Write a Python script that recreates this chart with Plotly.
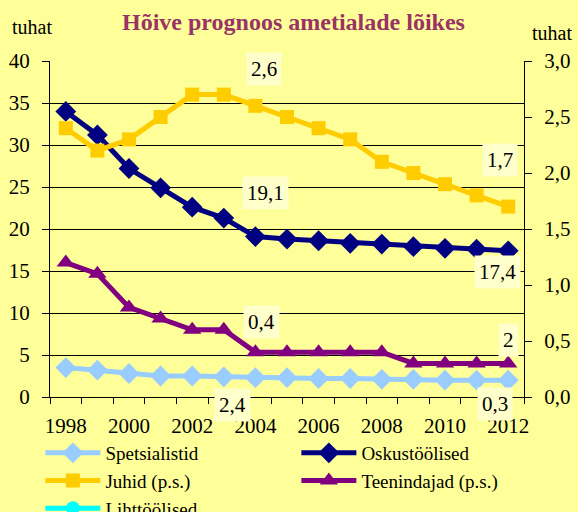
import plotly.graph_objects as go

years = list(range(1998, 2013))
spetsialistid = [3.5, 3.2, 2.8, 2.5, 2.5, 2.4, 2.3, 2.3, 2.2, 2.2, 2.1, 2.1, 2.0, 2.0, 2.0]
oskustoolised = [34.0, 31.2, 27.2, 24.9, 22.6, 21.3, 19.1, 18.8, 18.6, 18.3, 18.2, 17.9, 17.7, 17.6, 17.4]
juhid = [2.4, 2.2, 2.3, 2.5, 2.7, 2.7, 2.6, 2.5, 2.4, 2.3, 2.1, 2.0, 1.9, 1.8, 1.7]
teenindajad = [1.2, 1.1, 0.8, 0.7, 0.6, 0.6, 0.4, 0.4, 0.4, 0.4, 0.4, 0.3, 0.3, 0.3, 0.3]
lihttoolised = [None] * 15
xticks = [1998, 2000, 2002, 2004, 2006, 2008, 2010, 2012]

FONT = "Liberation Serif"
BG = "#FFFF99"

fig = go.Figure()
fig.add_trace(go.Scatter(x=years, y=spetsialistid, name="Spetsialistid", mode="lines+markers",
                         line=dict(color="#99CCFF", width=5),
                         marker=dict(symbol="diamond", size=16, color="#99CCFF")))
fig.add_trace(go.Scatter(x=years, y=oskustoolised, name="Oskustöölised", mode="lines+markers",
                         line=dict(color="#000080", width=5),
                         marker=dict(symbol="diamond", size=16, color="#000080")))
fig.add_trace(go.Scatter(x=years, y=juhid, name="Juhid (p.s.)", mode="lines+markers", yaxis="y2",
                         line=dict(color="#FFCC00", width=5),
                         marker=dict(symbol="square", size=14, color="#FFCC00")))
fig.add_trace(go.Scatter(x=years, y=teenindajad, name="Teenindajad (p.s.)", mode="lines+markers", yaxis="y2",
                         line=dict(color="#800080", width=5),
                         marker=dict(symbol="triangle-up", size=16, color="#800080")))
fig.add_trace(go.Scatter(x=years, y=lihttoolised, name="Lihttöölised", mode="lines+markers",
                         line=dict(color="#00FFFF", width=5),
                         marker=dict(symbol="circle", size=14, color="#00FFFF")))

def lab(text, xv, yv, xs, ys, yref="y"):
    fig.add_annotation(x=xv, y=yv, yref=yref, xref="x", text=text, showarrow=False,
                       xshift=xs, yshift=ys, bgcolor="#FFFFCC", borderpad=4,
                       font=dict(family=FONT, size=21, color="black"))

lab("2,6", years[6], juhid[6], 9, 37, "y2")
lab("19,1", years[6], oskustoolised[6], 10, 44)
lab("1,7", years[14], juhid[14], -8, 47, "y2")
lab("17,4", years[14], oskustoolised[14], -11, -21)
lab("2", years[14], spetsialistid[14], 0, 40)
lab("0,3", years[14], teenindajad[14], -13, -41, "y2")
lab("0,4", years[6], teenindajad[6], 6, 30, "y2")
lab("2,4", years[0], juhid[0], 167, -277, "y2")

fig.add_annotation(text="<b>Hõive prognoos ametialade lõikes</b>", xref="paper", yref="paper",
                   x=0.513, y=1.0, yshift=39, xanchor="center", yanchor="middle", showarrow=False,
                   font=dict(family=FONT, size=24, color="#993366"))
fig.add_annotation(text="tuhat", xref="paper", yref="paper", x=-0.084, y=1.0, yshift=34,
                   xanchor="left", yanchor="middle", showarrow=False,
                   font=dict(family=FONT, size=20, color="black"))
fig.add_annotation(text="tuhat", xref="paper", yref="paper", x=1.105, y=1.0, yshift=28,
                   xanchor="right", yanchor="middle", showarrow=False,
                   font=dict(family=FONT, size=20, color="black"))

fig.update_layout(
    width=578, height=512,
    margin=dict(l=50, r=54, t=61, b=115, autoexpand=False),
    paper_bgcolor=BG, plot_bgcolor=BG,
    separators=", ",
    font=dict(family=FONT, size=20, color="black"),
    showlegend=True,
    legend=dict(orientation="h", x=-0.0203, y=-0.11, xanchor="left", yanchor="top",
                entrywidth=186, itemwidth=55, bgcolor="rgba(0,0,0,0)",
                font=dict(family=FONT, size=19), tracegroupgap=0),
    xaxis=dict(range=[1997.5, 2012.5], tickvals=xticks, ticks="", showgrid=False, zeroline=False,
               showline=True, linecolor="black", linewidth=1, ticklabelstandoff=10,
               minor=dict(tick0=1997.5, dtick=1, ticks="outside", ticklen=6, tickcolor="black",
                          showgrid=False),
               tickfont=dict(family=FONT, size=21)),
    yaxis=dict(range=[0, 40], dtick=5, showgrid=True, gridcolor="black", gridwidth=1, zeroline=False,
               showline=True, linecolor="black", linewidth=1, ticks="outside", ticklen=7,
               tickcolor="black", ticklabelstandoff=8, tickfont=dict(family=FONT, size=21)),
    yaxis2=dict(range=[0, 3], dtick=0.5, tickformat=".1f", overlaying="y", side="right",
                showgrid=False, zeroline=False, showline=True, linecolor="black", linewidth=1,
                ticks="outside", ticklen=7, tickcolor="black", ticklabelstandoff=8,
                tickfont=dict(family=FONT, size=21)),
)

fig.write_html("out.html", config={"displayModeBar": False},
               post_script="document.body.style.margin='0';document.body.style.overflow='hidden';")
